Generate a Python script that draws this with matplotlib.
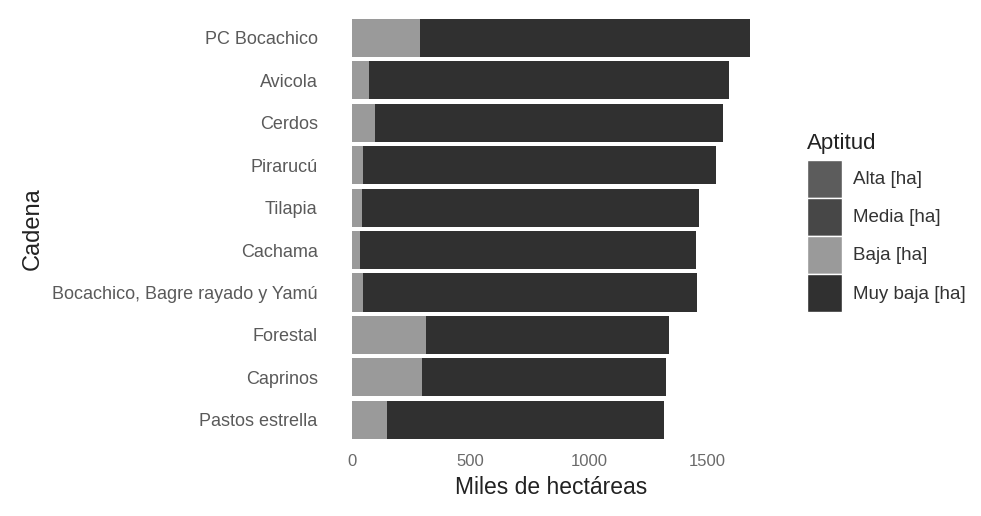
import numpy as np
import matplotlib.pyplot as plt
from matplotlib.patches import Patch

plt.rcParams['font.family'] = ['Liberation Sans', 'DejaVu Sans']

# data (miles de hectareas)
cadenas = ['PC Bocachico', 'Avicola', 'Cerdos', 'Pirarucú', 'Tilapia', 'Cachama',
           'Bocachico, Bagre rayado y Yamú', 'Forestal', 'Caprinos', 'Pastos estrella']
alta = [0, 0, 0, 0, 0, 0, 0, 0, 0, 0]
media = [0, 0, 0, 0, 0, 0, 0, 0, 0, 0]
baja = [290, 72, 100, 50, 45, 35, 50, 315, 295, 150]
total = [1680, 1590, 1565, 1535, 1465, 1450, 1455, 1340, 1325, 1315]
muy_baja = [t - b for t, b in zip(total, baja)]

labels = ['Alta [ha]', 'Media [ha]', 'Baja [ha]', 'Muy baja [ha]']
colors = ['#5c5c5c', '#474747', '#9a9a9a', '#303030']

fig = plt.figure(figsize=(9.81, 5.16), dpi=100)
ax = fig.add_axes([0.338, 0.137, 0.447, 0.839])

y = np.arange(len(cadenas))[::-1]
left = np.zeros(len(cadenas))
# Baja on the left, then Muy baja, Media, Alta
for vals, c in [(baja, colors[2]), (muy_baja, colors[3]), (media, colors[1]), (alta, colors[0])]:
    vals = np.array(vals, dtype=float)
    ax.barh(y, vals, left=left, height=0.9, color=c, linewidth=0)
    left += vals

ax.set_yticks(y)
ax.set_yticklabels(cadenas, fontsize=13, color='#5a5a5a')
ax.set_xticks([0, 500, 1000, 1500])
ax.set_xticklabels(['0', '500', '1000', '1500'], fontsize=12, color='#6a6a6a')
ax.set_xlim(-84, 1764)
ax.set_ylim(-0.6, len(cadenas) - 0.4)
ax.tick_params(axis='y', length=0, pad=10)
ax.tick_params(axis='x', length=0, pad=6)
for s in ax.spines.values():
    s.set_visible(False)
ax.set_xlabel('Miles de hectáreas', fontsize=16.5, color='#222222', labelpad=5)
ax.set_ylabel('Cadena', fontsize=17, color='#222222', labelpad=6)

handles = [Patch(facecolor=c, edgecolor='white', linewidth=1) for c in colors]
leg = fig.legend(handles, labels, title='Aptitud', loc='upper left',
                 bbox_to_anchor=(0.805, 0.775), frameon=False, fontsize=13.5,
                 title_fontsize=16, handlelength=1.9, handleheight=2.75,
                 labelspacing=0.0, handletextpad=0.55)
leg._legend_box.align = 'left'
leg._legend_box.sep = 4
for t in leg.get_texts():
    t.set_color('#333333')
leg.get_title().set_color('#222222')

fig.savefig('out.png', dpi=100)
